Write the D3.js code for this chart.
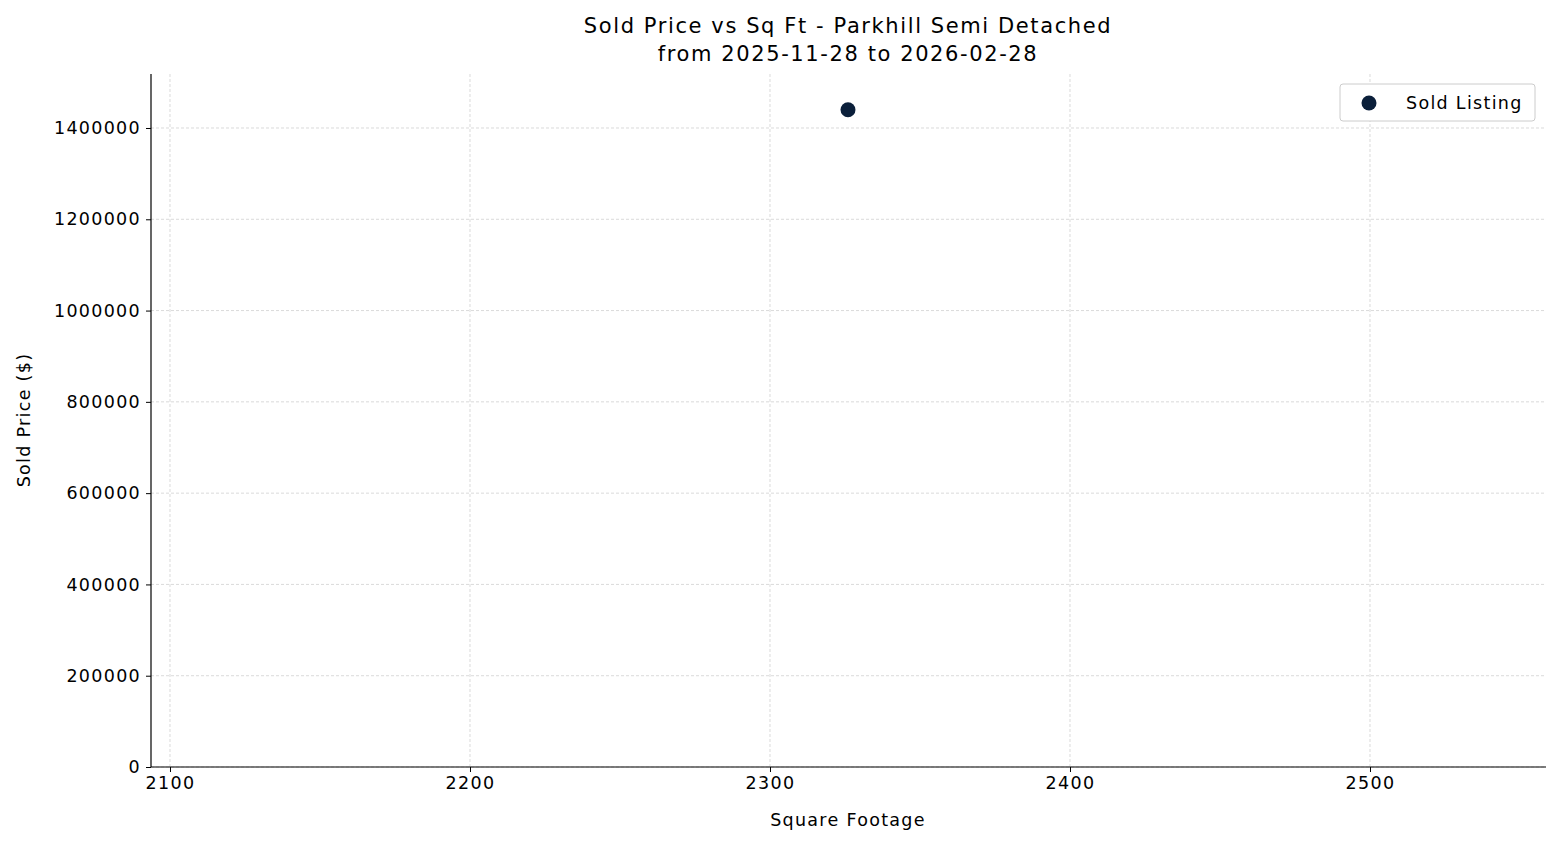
<!DOCTYPE html>
<html><head><meta charset="utf-8">
<script src="https://cdn.jsdelivr.net/npm/d3@7"></script>
<style>body{margin:0;background:#fff}svg{font-family:"DejaVu Sans",sans-serif}</style>
</head><body><svg id="c" width="1560" height="845"></svg>
<script>
const sqft = [2326];
const price = [1440000];
const xTicks = [2100, 2200, 2300, 2400, 2500];
const yTicks = [0, 200000, 400000, 600000, 800000, 1000000, 1200000, 1400000];
const title = ["Sold Price vs Sq Ft - Parkhill Semi Detached", "from 2025-11-28 to 2026-02-28"];

const svg = d3.select("#c");
const L = 151, R = 1546, T = 74, B = 767;
const x = d3.scaleLinear().domain([2093.67, 2558.67]).range([L, R]);
const y = d3.scaleLinear().domain([0, 1518300]).range([B, T]);
const FS = 17.5, LS = "1.3px";

const g = svg.append("g");
g.selectAll(".gx").data(xTicks).join("line").attr("x1", d => x(d)).attr("x2", d => x(d)).attr("y1", T).attr("y2", B)
  .attr("stroke", "#d0d0d0").attr("stroke-width", 0.8).attr("stroke-dasharray", "3,2");
g.selectAll(".gy").data(yTicks).join("line").attr("y1", d => y(d)).attr("y2", d => y(d)).attr("x1", L).attr("x2", R)
  .attr("stroke", "#d0d0d0").attr("stroke-width", 0.8).attr("stroke-dasharray", "3,2");

const xa = svg.append("g").attr("transform", `translate(0,${B})`).call(d3.axisBottom(x).tickValues(xTicks).tickFormat(d3.format("d")).tickSize(5).tickPadding(5).tickSizeOuter(0));
const ya = svg.append("g").attr("transform", `translate(${L},0)`).call(d3.axisLeft(y).tickValues(yTicks).tickFormat(d3.format("d")).tickSize(5).tickPadding(5).tickSizeOuter(0));
[xa, ya].forEach(a => { a.selectAll("text").attr("font-size", FS).attr("letter-spacing", LS).attr("fill", "#000").attr("font-family", "DejaVu Sans"); a.select(".domain").attr("stroke", "#000").attr("stroke-width", 1.2); });
xa.select(".domain").attr("d", `M${L},0H${R}`);
ya.select(".domain").attr("d", `M0,${B}V${T}`);

svg.selectAll(".pt").data(sqft).join("circle").attr("cx", d => x(d)).attr("cy", (d, i) => y(price[i])).attr("r", 7.5).attr("fill", "#0b1f3a");

svg.append("text").attr("x", 848).attr("y", 826).attr("text-anchor", "middle").attr("font-size", FS).attr("letter-spacing", LS).text("Square Footage");
svg.append("text").attr("transform", "translate(30,420) rotate(-90)").attr("text-anchor", "middle").attr("font-size", FS).attr("letter-spacing", LS).text("Sold Price ($)");
svg.append("text").attr("x", 848).attr("y", 33).attr("text-anchor", "middle").attr("font-size", 21).attr("letter-spacing", "1.6px").text(title[0]);
svg.append("text").attr("x", 848).attr("y", 61).attr("text-anchor", "middle").attr("font-size", 21).attr("letter-spacing", "1.6px").text(title[1]);

const lg = svg.append("g");
lg.append("rect").attr("x", 1340).attr("y", 84).attr("width", 195).attr("height", 37).attr("rx", 3).attr("fill", "#fff").attr("stroke", "#ccc");
lg.append("circle").attr("cx", 1369).attr("cy", 103).attr("r", 7.5).attr("fill", "#0b1f3a");
lg.append("text").attr("x", 1406).attr("y", 109).attr("font-size", FS).attr("letter-spacing", LS).text("Sold Listing");
</script></body></html>
